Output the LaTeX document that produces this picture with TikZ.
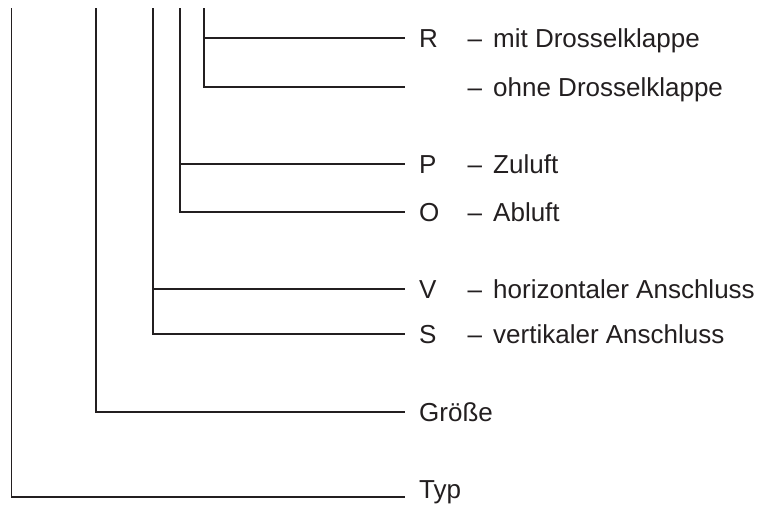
\documentclass[tikz,border=0pt]{standalone}
\usepackage{fontspec}
\setmainfont{Liberation Sans}
\definecolor{ink}{HTML}{231F20}
\begin{document}
\begin{tikzpicture}[x=1pt,y=-1pt,
  wire/.style={draw=ink,line width=1.8pt},
  lbl/.style={anchor=base west,inner sep=0pt,text=ink,font=\fontsize{26}{30}\selectfont}]
\useasboundingbox[fill=white] (0,0) rectangle (764,504);
% tops of the vertical lines
\coordinate (tA) at (11.5,8);
\coordinate (tB) at (96,8);
\coordinate (tC) at (153,8);
\coordinate (tD) at (180,8);
\coordinate (tE) at (204,8);
% line ends
\coordinate (eR) at (405,38);
\coordinate (eOhne) at (405,87);
\coordinate (eP) at (405,164);
\coordinate (eO) at (405,212);
\coordinate (eV) at (405,289);
\coordinate (eS) at (405,334);
\coordinate (eG) at (405,412);
\coordinate (eT) at (405,497);
% labels
\node[lbl] (R) at (419,47.3) {R};
\node[lbl] (mR) at (467.5,47.3) {–};
\node[lbl] (dR) at (493,47.3) {mit Drosselklappe};
\node[lbl] (mOhne) at (467.5,96.3) {–};
\node[lbl] (dOhne) at (493,96.3) {ohne Drosselklappe};
\node[lbl] (P) at (419,173.3) {P};
\node[lbl] (mP) at (467.5,173.3) {–};
\node[lbl] (dP) at (493,173.3) {Zuluft};
\node[lbl] (O) at (419,221.3) {O};
\node[lbl] (mO) at (467.5,221.3) {–};
\node[lbl] (dO) at (493,221.3) {Abluft};
\node[lbl] (V) at (419,298.3) {V};
\node[lbl] (mV) at (467.5,298.3) {–};
\node[lbl] (dV) at (493,298.3) {horizontaler Anschluss};
\node[lbl] (S) at (419,343.3) {S};
\node[lbl] (mS) at (467.5,343.3) {–};
\node[lbl] (dS) at (493,343.3) {vertikaler Anschluss};
\node[lbl] (G) at (419,421.3) {Größe};
\node[lbl] (T) at (419,498) {Typ};
% connectors
\draw[wire] (tE) |- (eOhne);
\draw[wire] (tE |- eR) -- (eR);
\draw[wire] (tD) |- (eO);
\draw[wire] (tD |- eP) -- (eP);
\draw[wire] (tC) |- (eS);
\draw[wire] (tC |- eV) -- (eV);
\draw[wire] (tB) |- (eG);
\draw[wire] (tA) |- (eT);
\end{tikzpicture}
\end{document}
